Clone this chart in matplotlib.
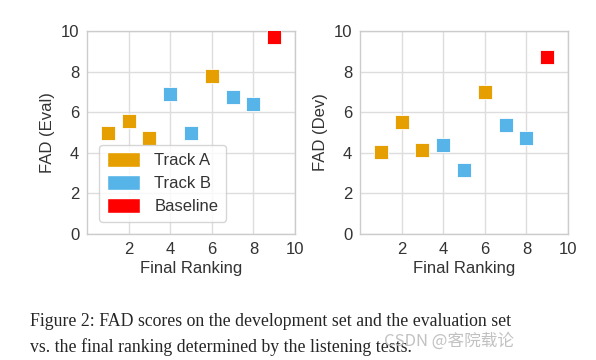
import matplotlib
matplotlib.use("Agg")
import matplotlib.pyplot as plt
from matplotlib.patches import Patch
import seaborn as sns

sns.set_style("whitegrid")
plt.rcParams['font.family'] = ['Liberation Sans', 'DejaVu Sans']

ranks_a = [1, 2, 3, 6]
ranks_b = [4, 5, 7, 8]
ranks_base = [9]
eval_a = [5.0, 5.55, 4.75, 7.8]
eval_b = [6.9, 5.0, 6.75, 6.4]
eval_base = [9.7]
dev_a = [4.05, 5.5, 4.15, 7.0]
dev_b = [4.4, 3.15, 5.35, 4.75]
dev_base = [8.7]
labels = ["Track A", "Track B", "Baseline"]
colors = ["#E69F00", "#56B4E9", "#FF0000"]
xticks = [2, 4, 6, 8, 10]
yticks = [0, 2, 4, 6, 8, 10]

fs = 12
fig = plt.figure(figsize=(5.96, 3.6), dpi=100)
ax1 = fig.add_axes([87/596, 1-234/360, 208/596, 203/360])
ax2 = fig.add_axes([360/596, 1-234/360, 208/596, 203/360])

for ax, ya, yb, yc, ylab in [(ax1, eval_a, eval_b, eval_base, "FAD (Eval)"),
                            (ax2, dev_a, dev_b, dev_base, "FAD (Dev)")]:
    for xs, ys, c in [(ranks_a, ya, colors[0]), (ranks_b, yb, colors[1]), (ranks_base, yc, colors[2])]:
        ax.scatter(xs, ys, marker="s", s=100, color=c, edgecolor="white", linewidth=0.6, zorder=3)
    ax.set_xlim(0, 10)
    ax.set_ylim(0, 10)
    ax.set_xticks(xticks)
    ax.set_yticks(yticks)
    ax.tick_params(labelsize=fs, colors="#333333", pad=2)
    ax.set_xlabel("Final Ranking", fontsize=fs, color="#333333", labelpad=3)
    ax.set_ylabel(ylab, fontsize=fs, color="#333333", labelpad=4)
    for s in ax.spines.values():
        s.set_color("#cccccc")
        s.set_linewidth(1.0)
    ax.grid(color="#dddddd", linewidth=1.0)

handles = [Patch(facecolor=c, edgecolor="white", label=l) for c, l in zip(colors, labels)]
ax1.legend(handles=handles, loc="lower left", bbox_to_anchor=(0.02, 0.02), fontsize=fs,
           handlelength=2.0, handleheight=1.0, handletextpad=0.85, frameon=True, labelcolor="#333333",
           borderpad=0.45, labelspacing=0.4)

cap = dict(family=["Liberation Serif", "DejaVu Serif"], fontsize=12.8, va="center", ha="left")
fig.text(30/596, 1-322/360, "Figure 2: FAD scores on the development set and the evaluation set", **cap)
fig.text(30/596, 1-347/360, "vs. the final ranking determined by the listening tests.", **cap)
fig.text(449/596, 1-341/360, "CSDN @客院载论", family=["Noto Sans CJK SC", "DejaVu Sans"],
         fontsize=12, color="#bbbbbb", alpha=0.9, va="center", ha="center")

fig.savefig("out.png", dpi=100)
